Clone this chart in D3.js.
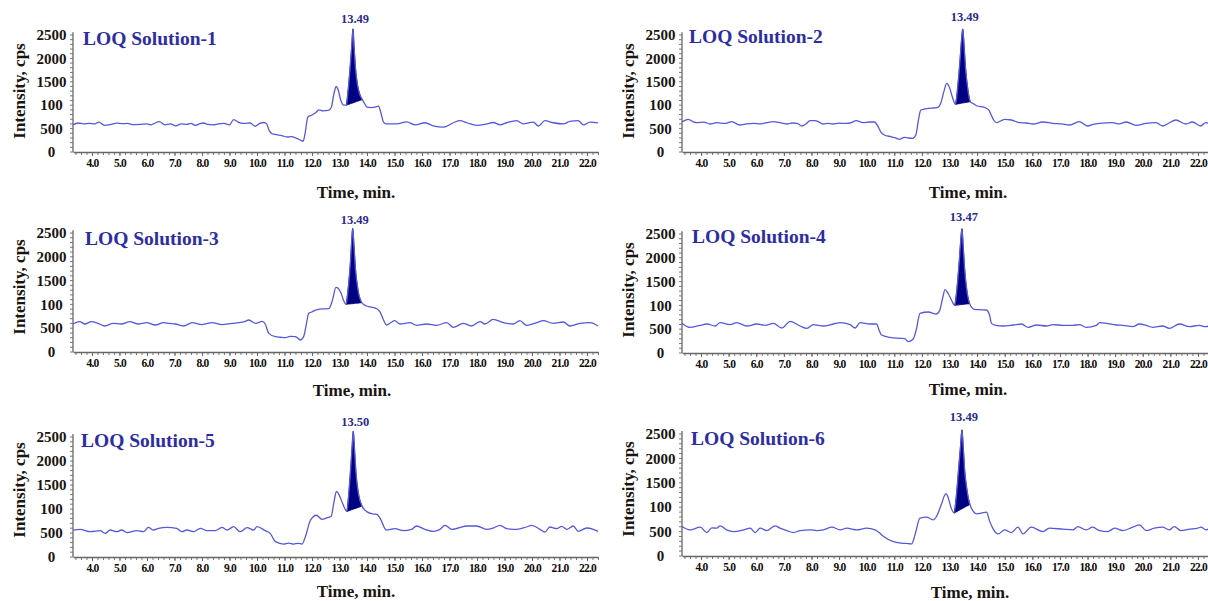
<!DOCTYPE html>
<html>
<head>
<meta charset="utf-8">
<script src="https://cdn.jsdelivr.net/npm/d3@7"></script>
<style>
  body { margin: 0; background: #fff; }
  svg { display: block; }
</style>
</head>
<body>
<svg id="chart" width="1208" height="601"></svg>
<script>
// values: [time (min), intensity (cps)]
const titles = ['LOQ Solution-1', 'LOQ Solution-2', 'LOQ Solution-3',
  'LOQ Solution-4', 'LOQ Solution-5', 'LOQ Solution-6'];
const peakLabels = ['13.49', '13.49', '13.49', '13.47', '13.50', '13.49'];
const fillBounds = [[13.25, 13.83], [13.22, 13.75], [13.24, 13.81],
  [13.19, 13.73], [13.27, 13.82], [13.17, 13.74]];
const xTicks = [4, 5, 6, 7, 8, 9, 10, 11, 12, 13, 14, 15, 16, 17, 18, 19, 20, 21, 22];
const xTickLabels = ['4.0', '5.0', '6.0', '7.0', '8.0', '9.0', '10.0', '11.0', '12.0', '13.0',
  '14.0', '15.0', '16.0', '17.0', '18.0', '19.0', '20.0', '21.0', '22.0'];
const yTicks = [0, 500, 1000, 1500, 2000, 2500];
const yTickLabels = ['0', '500', '100', '1500', '2000', '2500'];

const loq1 = [[3.31,580],[3.5,620],[3.7,600],[3.9,610],[4.1,600],[4.25,640],[4.45,570],[4.7,590],[4.9,615],[5.1,605],[5.3,610],[5.5,585],[5.75,590],[6.0,600],[6.15,580],[6.3,620],[6.45,650],[6.65,580],[6.85,600],[7.05,560],[7.25,600],[7.45,590],[7.6,610],[7.75,570],[7.9,600],[8.05,620],[8.2,590],[8.4,580],[8.6,600],[8.8,610],[9.0,580],[9.15,690],[9.35,630],[9.55,610],[9.75,620],[9.93,550],[10.1,610],[10.25,630],[10.35,600],[10.45,450],[10.55,390],[10.7,370],[10.9,350],[11.1,320],[11.25,330],[11.45,290],[11.6,250],[11.68,230],[11.75,400],[11.85,750],[12.0,790],[12.15,850],[12.25,900],[12.4,880],[12.6,890],[12.7,950],[12.8,1250],[12.88,1400],[12.95,1330],[13.05,1100],[13.15,1000],[13.25,1000],[13.32,1350],[13.4,1900],[13.45,2300],[13.49,2630],[13.53,2250],[13.58,1800],[13.65,1450],[13.74,1230],[13.83,1120],[13.9,1050],[14.0,960],[14.15,950],[14.3,960],[14.42,980],[14.5,850],[14.6,640],[14.7,600],[15.08,600],[15.44,645],[15.75,580],[16.11,625],[16.41,560],[16.78,530],[17.14,625],[17.38,670],[17.63,625],[17.99,570],[18.35,600],[18.59,630],[18.84,580],[19.08,625],[19.44,670],[19.68,600],[20.05,640],[20.23,555],[20.47,670],[20.77,625],[21.14,600],[21.38,655],[21.68,670],[21.87,580],[22.11,640],[22.4,620]];
const loq2 = [[3.31,640],[3.53,698],[3.7,650],[3.84,627],[4.1,640],[4.33,598],[4.57,627],[4.85,610],[5.11,648],[5.41,577],[5.65,600],[5.9,612],[6.15,600],[6.38,627],[6.62,648],[6.9,620],[7.12,598],[7.3,620],[7.48,612],[7.66,556],[7.8,600],[7.95,670],[8.13,670],[8.28,640],[8.42,598],[8.6,610],[8.78,598],[9.0,615],[9.26,612],[9.45,630],[9.62,670],[9.87,627],[10.1,641],[10.28,641],[10.4,560],[10.52,420],[10.64,363],[10.88,327],[11.05,300],[11.18,271],[11.36,313],[11.5,300],[11.66,292],[11.78,363],[11.88,700],[11.96,897],[12.26,933],[12.45,940],[12.6,960],[12.68,1040],[12.8,1300],[12.9,1468],[13.0,1380],[13.1,1182],[13.22,1019],[13.3,1400],[13.38,1950],[13.43,2350],[13.48,2628],[13.53,2250],[13.58,1800],[13.65,1400],[13.75,1075],[13.87,1030],[14.0,983],[14.24,960],[14.35,930],[14.42,898],[14.52,780],[14.6,684],[14.7,627],[15.0,698],[15.24,684],[15.54,627],[15.78,620],[16.02,598],[16.38,641],[16.75,612],[17.05,600],[17.35,577],[17.7,648],[18.0,556],[18.2,590],[18.43,612],[18.91,627],[19.15,600],[19.4,641],[19.76,570],[20.12,612],[20.48,627],[20.72,556],[20.95,620],[21.2,684],[21.56,598],[21.8,641],[22.1,556],[22.28,627],[22.4,610]];
const loq3 = [[3.31,588],[3.56,637],[3.74,588],[3.98,637],[4.22,602],[4.47,546],[4.77,602],[5.07,588],[5.38,637],[5.68,588],[5.99,616],[6.3,567],[6.6,616],[6.8,600],[7.03,588],[7.33,546],[7.64,616],[8.0,574],[8.2,600],[8.37,616],[8.73,574],[9.1,602],[9.34,616],[9.55,640],[9.7,672],[9.95,602],[10.19,644],[10.3,588],[10.43,392],[10.67,322],[10.85,310],[11.03,301],[11.2,330],[11.4,322],[11.58,252],[11.7,330],[11.8,600],[11.88,812],[11.99,840],[12.13,882],[12.35,905],[12.61,910],[12.75,1100],[12.87,1358],[12.95,1340],[13.06,1232],[13.15,1080],[13.24,1001],[13.32,1350],[13.4,1900],[13.44,2300],[13.48,2597],[13.53,2200],[13.58,1750],[13.66,1350],[13.81,1036],[13.98,966],[14.11,950],[14.35,910],[14.47,847],[14.58,700],[14.71,567],[14.85,610],[15.01,658],[15.2,588],[15.56,616],[15.8,560],[16.17,588],[16.53,560],[16.9,616],[17.14,518],[17.5,602],[17.8,546],[18.11,637],[18.29,588],[18.59,686],[18.96,616],[19.32,588],[19.56,658],[19.8,560],[20.17,616],[20.41,658],[20.77,602],[21.14,630],[21.38,546],[21.74,602],[22.11,616],[22.4,546]];
const loq4 = [[3.31,623],[3.58,539],[3.97,581],[4.21,609],[4.51,567],[4.69,637],[5.05,595],[5.29,637],[5.66,567],[6.02,609],[6.32,581],[6.62,623],[6.93,525],[7.23,665],[7.59,567],[7.83,518],[8.07,595],[8.43,567],[8.8,609],[9.04,637],[9.4,595],[9.58,525],[9.76,637],[10.12,609],[10.36,609],[10.45,480],[10.54,378],[10.84,329],[11.2,308],[11.38,300],[11.5,238],[11.68,290],[11.8,500],[11.93,833],[12.23,861],[12.53,819],[12.65,903],[12.75,1150],[12.84,1330],[12.95,1250],[13.07,1113],[13.19,1001],[13.27,1350],[13.35,1900],[13.4,2300],[13.45,2610],[13.5,2200],[13.55,1750],[13.62,1350],[13.73,1036],[13.91,917],[14.1,910],[14.33,903],[14.45,800],[14.52,623],[14.64,588],[14.95,567],[15.31,588],[15.61,609],[15.85,539],[16.15,588],[16.51,567],[16.75,595],[17.11,581],[17.47,581],[17.71,595],[17.95,539],[18.32,581],[18.44,637],[18.68,623],[19.04,588],[19.28,581],[19.64,553],[19.88,609],[20.12,581],[20.36,539],[20.72,567],[20.96,518],[21.33,609],[21.69,553],[22.05,581],[22.29,553],[22.4,570]];
const loq5 = [[3.31,562],[3.57,576],[3.94,527],[4.3,548],[4.48,493],[4.66,562],[4.9,527],[5.08,562],[5.27,507],[5.63,548],[5.87,527],[6.05,617],[6.23,562],[6.42,596],[6.72,617],[7.08,596],[7.27,527],[7.45,562],[7.7,527],[7.94,596],[8.18,548],[8.48,548],[8.73,617],[8.91,562],[9.15,631],[9.39,527],[9.64,610],[9.88,562],[10.0,631],[10.3,548],[10.48,493],[10.67,319],[10.97,270],[11.15,290],[11.33,270],[11.5,285],[11.64,270],[11.76,423],[11.94,760],[12.16,870],[12.36,785],[12.55,820],[12.7,850],[12.8,1150],[12.89,1365],[12.98,1300],[13.09,1153],[13.27,950],[13.35,1400],[13.42,1950],[13.46,2300],[13.5,2620],[13.55,2200],[13.6,1750],[13.68,1350],[13.82,1060],[14.02,935],[14.2,900],[14.36,890],[14.5,780],[14.7,560],[15.01,590],[15.32,548],[15.62,576],[15.8,646],[16.11,576],[16.41,535],[16.65,576],[16.84,660],[17.08,576],[17.32,604],[17.63,646],[17.99,646],[18.35,576],[18.59,604],[18.84,660],[19.08,590],[19.44,576],[19.8,625],[19.99,660],[20.29,576],[20.47,521],[20.65,625],[20.9,590],[21.08,639],[21.26,576],[21.5,646],[21.68,535],[21.99,604],[22.23,576],[22.4,535]];
const loq6 = [[3.31,604],[3.6,536],[3.97,590],[4.21,481],[4.39,577],[4.57,570],[4.69,618],[4.93,536],[5.17,501],[5.54,536],[5.78,570],[5.96,481],[6.14,570],[6.38,522],[6.68,618],[6.86,570],[7.1,522],[7.35,481],[7.59,522],[7.95,536],[8.19,522],[8.43,536],[8.74,590],[9.04,536],[9.28,570],[9.64,536],[10.0,570],[10.3,536],[10.45,480],[10.61,398],[10.97,295],[11.33,260],[11.5,255],[11.63,247],[11.75,433],[11.93,776],[12.17,797],[12.41,742],[12.53,810],[12.7,1050],[12.87,1277],[12.95,1200],[13.05,1000],[13.17,880],[13.26,1300],[13.34,1850],[13.4,2250],[13.45,2585],[13.5,2200],[13.55,1750],[13.62,1400],[13.74,1057],[13.98,865],[14.15,880],[14.34,900],[14.45,720],[14.58,556],[14.76,453],[15.0,536],[15.24,481],[15.48,590],[15.66,453],[15.96,590],[16.38,501],[16.62,570],[17.11,549],[17.47,536],[17.65,604],[17.95,536],[18.19,590],[18.43,522],[18.73,501],[18.98,570],[19.28,522],[19.64,590],[19.88,638],[20.12,522],[20.42,570],[20.72,590],[20.96,536],[21.14,604],[21.38,522],[21.69,549],[21.99,570],[22.11,590],[22.29,536],[22.4,560]];
const traces = [loq1, loq2, loq3, loq4, loq5, loq6];

// layout of the six panels (pixels)
const cols = [{ x0: 73, x1: 598 }, { x0: 682, x1: 1209 }];
const panels = [
  { col: 0, yb: 152, yt: 35,  tx: 83,  ty: 38,  ly: 19,  yly: 91,  xtx: 356, xty: 192 },
  { col: 1, yb: 152, yt: 35,  tx: 689, ty: 36,  ly: 17,  yly: 91,  xtx: 968, xty: 192 },
  { col: 0, yb: 352, yt: 233, tx: 85,  ty: 238, ly: 220, yly: 287, xtx: 352, xty: 390 },
  { col: 1, yb: 353, yt: 234, tx: 692, ty: 236, ly: 217, yly: 290, xtx: 968, xty: 389 },
  { col: 0, yb: 557, yt: 437, tx: 81,  ty: 440, ly: 422, yly: 490, xtx: 356, xty: 591 },
  { col: 1, yb: 556, yt: 434, tx: 691, ty: 438, ly: 417, yly: 489, xtx: 970, xty: 592 },
];

const serif = '"Liberation Serif", "Times New Roman", serif';
const lineColor = '#5757da';
const svg = d3.select('#chart');

panels.forEach((p, i) => {
  const c = cols[p.col];
  const x = d3.scaleLinear().domain([3.31, 22.4]).range([c.x0, c.x1]);
  const y = d3.scaleLinear().domain([0, 2500]).range([p.yb, p.yt]);
  const g = svg.append('g');
  const data = traces[i];

  // x axis: minor ticks then major ticks with labels
  g.append('g')
    .attr('transform', `translate(0,${p.yb})`)
    .call(d3.axisBottom(x).tickValues(d3.range(3.4, 22.41, 0.2)).tickSize(3).tickFormat(''))
    .call(a => a.select('.domain').remove())
    .selectAll('line').attr('stroke', '#777');
  const xa = g.append('g')
    .attr('transform', `translate(0,${p.yb})`)
    .call(d3.axisBottom(x).tickValues(xTicks).tickSize(4).tickSizeOuter(0)
      .tickFormat((d, k) => xTickLabels[k]));
  xa.select('.domain').attr('stroke', '#666').attr('stroke-width', 1.3);
  xa.selectAll('line').attr('stroke', '#666');
  xa.selectAll('text')
    .attr('y', 11).attr('dy', '0.34em')
    .attr('fill', '#110c08')
    .style('font-family', serif).style('font-weight', 'bold')
    .style('font-size', '11.5px').style('letter-spacing', '-0.8px');

  // y axis
  g.append('line')
    .attr('x1', c.x0).attr('x2', c.x0)
    .attr('y1', y(0)).attr('y2', y(2560))
    .attr('stroke', '#666').attr('stroke-width', 1.3);
  g.selectAll('.ymin')
    .data(d3.range(0, 2501, 100))
    .join('line')
    .attr('x1', c.x0 - 3).attr('x2', c.x0)
    .attr('y1', d => y(d)).attr('y2', d => y(d))
    .attr('stroke', '#777');
  g.selectAll('.ylab')
    .data(yTicks)
    .join('text')
    .attr('x', c.x0 - 21.5)
    .attr('y', d => y(d))
    .attr('dy', '0.35em')
    .attr('text-anchor', 'middle')
    .attr('fill', '#1a1410')
    .style('font-family', serif).style('font-weight', 'bold').style('font-size', '15px')
    .text((d, k) => yTickLabels[k]);

  // axis titles
  g.append('text')
    .attr('transform', `translate(${c.x0 - 54},${p.yly}) rotate(-90)`)
    .attr('text-anchor', 'middle').attr('dy', '0.35em')
    .attr('fill', '#1a1410')
    .style('font-family', serif).style('font-weight', 'bold').style('font-size', '17px')
    .text('Intensity, cps');
  g.append('text')
    .attr('x', p.xtx).attr('y', p.xty).attr('dy', '0.35em')
    .attr('text-anchor', 'middle')
    .attr('fill', '#1a1410')
    .style('font-family', serif).style('font-weight', 'bold').style('font-size', '17px')
    .text('Time, min.');

  // filled peak: area between trace and straight baseline
  const [f0, f1] = fillBounds[i];
  const v0 = data.find(d => d[0] === f0)[1];
  const v1 = data.find(d => d[0] === f1)[1];
  const base = d3.scaleLinear().domain([f0, f1]).range([v0, v1]);
  const peak = data.filter(d => d[0] >= f0 && d[0] <= f1);
  g.append('path')
    .datum(peak)
    .attr('fill', '#000082')
    .attr('stroke', '#000060')
    .attr('stroke-width', 0.8)
    .attr('d', d3.area().curve(d3.curveMonotoneX)
      .x(d => x(d[0])).y0(d => y(base(d[0]))).y1(d => y(d[1])));

  // trace
  g.append('path')
    .datum(data)
    .attr('fill', 'none')
    .attr('stroke', lineColor)
    .attr('stroke-width', 1.3)
    .attr('stroke-linejoin', 'round')
    .attr('d', d3.line().curve(d3.curveMonotoneX).x(d => x(d[0])).y(d => y(d[1])));

  // labels
  const apex = peak.reduce((a, b) => (b[1] > a[1] ? b : a));
  g.append('text')
    .attr('x', x(apex[0]) + 2).attr('y', p.ly).attr('dy', '0.35em')
    .attr('text-anchor', 'middle')
    .attr('fill', '#2a2a8c')
    .style('font-family', serif).style('font-weight', 'bold').style('font-size', '12.5px')
    .text(peakLabels[i]);
  g.append('text')
    .attr('x', p.tx).attr('y', p.ty).attr('dy', '0.35em')
    .attr('fill', '#2d2da2')
    .style('font-family', serif).style('font-weight', 'bold').style('font-size', '19.5px')
    .text(titles[i]);
});
</script>
</body>
</html>
